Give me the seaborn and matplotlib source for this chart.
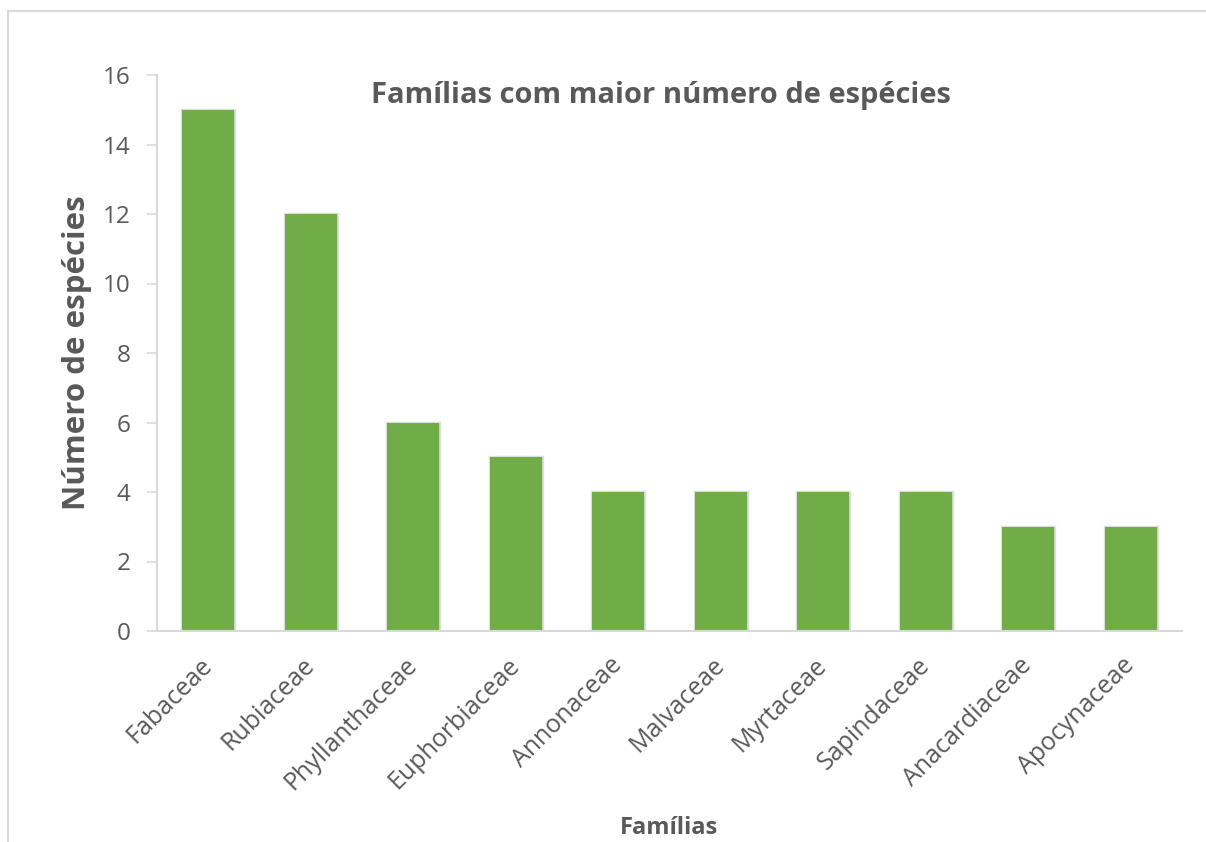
import matplotlib
matplotlib.use("Agg")
import matplotlib.pyplot as plt
import matplotlib.patheffects as pe
from matplotlib.patches import Rectangle
import seaborn as sns
import pandas as pd

familias = ["Fabaceae", "Rubiaceae", "Phyllanthaceae", "Euphorbiaceae", "Annonaceae",
            "Malvaceae", "Myrtaceae", "Sapindaceae", "Anacardiaceae", "Apocynaceae"]
especies = [15, 12, 6, 5, 4, 4, 4, 4, 3, 3]
yticks = [0, 2, 4, 6, 8, 10, 12, 14, 16]

title = "Famílias com maior número de espécies"
xlabel = "Famílias"
ylabel = "Número de espécies"

sns.set_theme(style="white")
plt.rcParams["font.family"] = ["Open Sans", "DejaVu Sans"]

TEXT = "#595959"
GRID = "#D9D9D9"
GREEN = "#70AD47"

df = pd.DataFrame({"familia": familias, "n": especies})

fig = plt.figure(figsize=(12.06, 8.42), dpi=100)
ax = fig.add_axes([157/1206, 1 - 631/842, (1182-157)/1206, (631-75)/842])

sns.barplot(data=df, x="familia", y="n", color=GREEN, saturation=1, width=0.51, ax=ax)
for p in ax.patches:
    p.set_edgecolor("none")
    p.set_path_effects([pe.withStroke(linewidth=2.5, foreground="#C8C8C8", alpha=0.6), pe.Normal()])

ax.set_xlim(-0.5, len(familias) - 0.5)
ax.set_ylim(0, 16)
ax.set_yticks(yticks)
ax.set_yticklabels([str(v) for v in yticks], fontsize=17.5, color=TEXT)
ax.set_xticks(range(len(familias)))
ax.set_xticklabels(familias, rotation=45, ha="right", va="center", rotation_mode="anchor",
                   fontsize=18, color=TEXT)
ax.tick_params(axis="y", length=7, width=1.2, color=GRID, pad=12, left=True)
ax.tick_params(axis="x", length=0, pad=22)

for s in ["top", "right"]:
    ax.spines[s].set_visible(False)
for s in ["left", "bottom"]:
    ax.spines[s].set_color(GRID)
    ax.spines[s].set_linewidth(1.5)

ax.set_xlabel("")
ax.set_ylabel("")

fig.text(661/1206, 1 - 96/842, title, ha="center", va="center", fontsize=21, fontweight="bold", color=TEXT)
fig.text(77/1206, 1 - 353/842, ylabel, ha="center", va="center", rotation=90,
         fontsize=22.5, fontweight="bold", color=TEXT)
fig.text(669/1206, 1 - 828/842, xlabel, ha="center", va="center", fontsize=17,
         fontweight="bold", color=TEXT)

fig.patches.append(Rectangle((8/1206, -0.1), 1.5, 1 - 11/842 + 0.1, transform=fig.transFigure,
                             fill=False, edgecolor=GRID, linewidth=1.5))

fig.savefig("out.png", dpi=100)
